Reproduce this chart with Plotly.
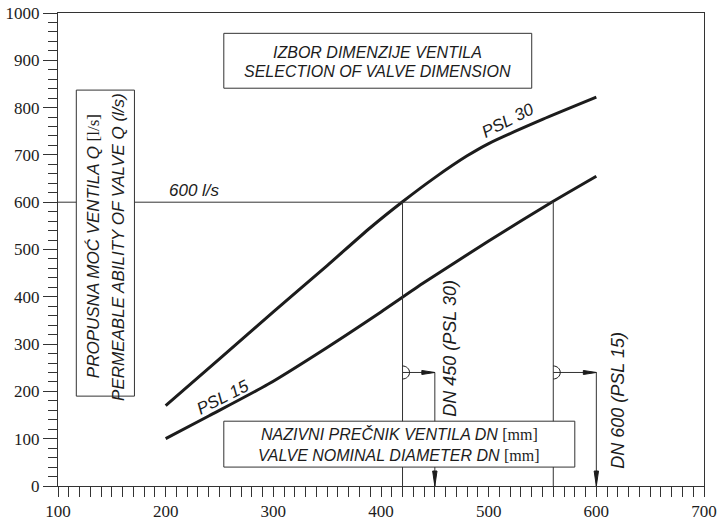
import plotly.graph_objects as go

# Flow capacity curves: valve nominal diameter DN [mm] vs flow Q [l/s]
psl30_dn = [200, 250, 300, 350, 390, 420, 450, 480, 500, 550, 600]
psl30_q = [170, 269, 368, 466, 546, 601, 652, 698, 724, 775, 822]

psl15_dn = [200, 240, 295, 350, 400, 440, 500, 560, 600]
psl15_q = [100, 148, 215, 293, 368, 430, 518, 602, 655]

# Worked example: 600 l/s read across to each curve, then down to the DN axis
design_flow = 600
cross_dn_psl30 = 420
cross_dn_psl15 = 560
selected_dn_psl30 = 450
selected_dn_psl15 = 600
pointer_level = 240

x_ticks = [100, 200, 300, 400, 500, 600, 700]
y_ticks = [0, 100, 200, 300, 400, 500, 600, 700, 800, 900, 1000]

INK = "#1c1c1c"
THIN = "#333333"
SANS = "Liberation Sans"
SERIF = "Liberation Serif"

fig = go.Figure()

for dn, q in ((psl30_dn, psl30_q), (psl15_dn, psl15_q)):
    fig.add_trace(go.Scatter(
        x=dn, y=q, mode="lines",
        line=dict(color=INK, width=3, shape="spline", smoothing=0.6),
        hoverinfo="skip", showlegend=False,
    ))

shapes = []


def seg(x0, y0, x1, y1):
    shapes.append(dict(type="line", xref="x", yref="y", x0=x0, y0=y0, x1=x1, y1=y1,
                       line=dict(color=THIN, width=1)))


def pixel_path(xa, ya, path, fill=True):
    shapes.append(dict(type="path", xref="x", yref="y", xsizemode="pixel", ysizemode="pixel",
                       xanchor=xa, yanchor=ya, path=path,
                       fillcolor=INK if fill else "rgba(0,0,0,0)",
                       line=dict(color=INK, width=1)))


# 600 l/s reading line and the drops to the axis
seg(x_ticks[0], design_flow, cross_dn_psl15, design_flow)
seg(cross_dn_psl30, 0, cross_dn_psl30, design_flow)
seg(cross_dn_psl15, 0, cross_dn_psl15, design_flow)

# Pointers to the selected nominal diameters
for cross, sel in ((cross_dn_psl30, selected_dn_psl30), (cross_dn_psl15, selected_dn_psl15)):
    seg(cross, pointer_level, sel, pointer_level)
    seg(sel, pointer_level, sel, 0)
    # half-circle marker on the crossing line
    pixel_path(cross, pointer_level,
               "M0,6.5 C3.9,6.5 7,3.6 7,0 C7,-3.6 3.9,-6.5 0,-6.5", fill=False)
    # right-pointing head at the corner
    pixel_path(sel, pointer_level, "M0,0 L-13,2 L-13,-2 Z")
    # downward head at the axis
    pixel_path(sel, 0, "M0,0 L-2.2,15 L2.2,15 Z")

# Framed text boxes (white fill hides the lines behind them)
for x0, y0, x1, y1 in ((254, 841, 540, 957), (117, 190, 171, 837), (254, 40, 580, 137)):
    shapes.append(dict(type="rect", xref="x", yref="y", x0=x0, y0=y0, x1=x1, y1=y1,
                       fillcolor="white", line=dict(color=THIN, width=1)))


def label(x, y, text, angle=0, size=16):
    fig.add_annotation(x=x, y=y, xref="x", yref="y", text=text, showarrow=False,
                       textangle=angle, font=dict(family=SANS, size=size, color=INK))


def upright(t):
    return f'<span style="font-family:{SERIF};font-style:normal">{t}</span>'


label(397, 917, "<i>IZBOR DIMENZIJE VENTILA</i>")
label(397, 876, "<i>SELECTION OF VALVE DIMENSION</i>")

label(133, 506, "<i>PROPUSNA MOĆ VENTILA Q </i>" + upright("[l/s]"), angle=-90, size=17)
label(156, 506, "<i>PERMEABLE ABILITY OF VALVE Q (l/s)</i>", angle=-90, size=17)

label(417, 109, "<i>NAZIVNI PREČNIK VENTILA DN </i>" + upright("[mm]"))
label(417, 65, "<i>VALVE NOMINAL DIAMETER DN </i>" + upright("[mm]"))

label(227, 625, f"<i>{design_flow} l/s</i>", size=17)
label(253, 187, "<i>PSL 15</i>", angle=-27, size=17)
label(518, 772, "<i>PSL 30</i>", angle=-27, size=17)
label(464, 292, f"<i>DN {selected_dn_psl30} (PSL 30)</i>", angle=-90, size=18)
label(620, 182, f"<i>DN {selected_dn_psl15} (PSL 15)</i>", angle=-90, size=18)

tick_font = dict(family=SERIF, size=17, color=INK)

x_axis = dict(
    range=[100, 700], tickmode="array", tickvals=x_ticks, ticktext=[str(v) for v in x_ticks],
    tickfont=tick_font, ticks="outside", ticklen=10, tickwidth=1, tickcolor=THIN,
    minor=dict(dtick=10, ticks="outside", ticklen=10, tickwidth=1, tickcolor=THIN, showgrid=False),
    showline=True, linecolor=THIN, linewidth=1, mirror=True, automargin=False,
    showgrid=False, zeroline=False,
)
y_axis = dict(
    range=[0, 1000], tickmode="array", tickvals=y_ticks, ticktext=[str(v) for v in y_ticks],
    tickfont=tick_font, ticks="outside", ticklen=14, tickwidth=1, tickcolor=THIN,
    minor=dict(dtick=20, ticks="outside", ticklen=9, tickwidth=1, tickcolor=THIN, showgrid=False),
    showline=True, linecolor=THIN, linewidth=1, mirror=True, automargin=False,
    showgrid=False, zeroline=False,
)

fig.update_layout(
    template="none",
    width=723, height=521,
    margin=dict(l=58, r=19, t=13, b=35),
    font=dict(family=SERIF, size=17, color=INK),
    paper_bgcolor="white", plot_bgcolor="white",
    xaxis=x_axis, yaxis=y_axis, shapes=shapes,
)

fig.write_html("out.html")
